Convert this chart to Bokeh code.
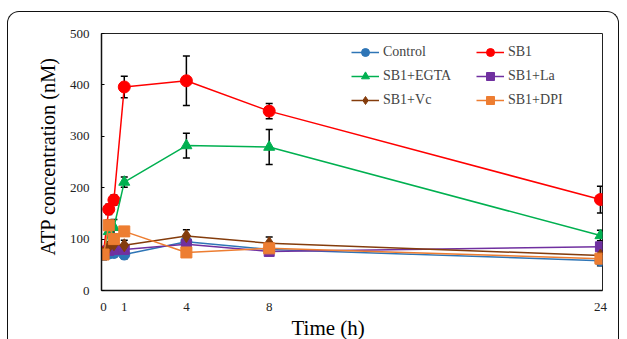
from bokeh.plotting import figure
from bokeh.models import (ColumnDataSource, Whisker, TeeHead, Legend, LegendItem,
                          FixedTicker, Range1d, Title, InlineStyleSheet)
from bokeh.embed import file_html
from bokeh.resources import INLINE

# ---- data ----
time_h = [0, 0.25, 0.5, 1, 4, 8, 24]
x_ticks = [0, 1, 4, 8, 24]
y_ticks = [0, 100, 200, 300, 400, 500]

control = [70, 72, 73, 70, 95, 80, 58]
sb1 = [75, 158, 176, 396, 408, 349, 177]
sb1_egta = [72, 115, 123, 211, 282, 279, 107]
sb1_la = [72, 78, 80, 80, 90, 76, 85]
sb1_vc = [72, 85, 90, 88, 106, 92, 68]
sb1_dpi = [70, 127, 100, 115, 74, 82, 62]

control_err = [8, 8, 8, 8, 10, 8, 10]
sb1_err = [8, 10, 10, 21, 48, 15, 26]
sb1_egta_err = [8, 10, 15, 10, 24, 34, 10]
sb1_la_err = [8, 8, 8, 8, 8, 8, 8]
sb1_vc_err = [8, 10, 10, 10, 12, 12, 8]
sb1_dpi_err = [10, 10, 10, 8, 5, 5, 10]

series = [
    ("Control", control, control_err, "#2E75B6", "circle", 11),
    ("SB1", sb1, sb1_err, "#FF0000", "circle", 12),
    ("SB1+EGTA", sb1_egta, sb1_egta_err, "#00B050", "triangle", 11),
    ("SB1+La", sb1_la, sb1_la_err, "#7030A0", "square", 10),
    ("SB1+Vc", sb1_vc, sb1_vc_err, "#843C0C", "diamond", 13),
    ("SB1+DPI", sb1_dpi, sb1_dpi_err, "#ED7D31", "square", 11),
]

FONT = "Liberation Serif"

p = figure(width=619, height=339, output_backend="svg", toolbar_location=None,
           x_range=Range1d(-0.1, 24.1), y_range=Range1d(0, 500),
           min_border_left=101, min_border_right=17, min_border_top=33,
           min_border_bottom=47)
p.background_fill_color = "white"
p.border_fill_color = "white"
p.grid.visible = False
p.outline_line_color = "#222222"
p.outline_line_width = 1

# outer rounded frame (decoration around the whole chart)
p.stylesheets = [InlineStyleSheet(css="""
:host { position: relative; overflow: visible; }
:host::after {
  content: ""; position: absolute; left: 7px; top: 11px; width: 612px; height: 330px;
  border: 1px solid #111; border-bottom: none; border-radius: 12px 12px 0 0;
  pointer-events: none; z-index: 10; box-sizing: border-box;
}
""")]

# error bars
for name, vals, errs, color, marker, size in series:
    src = ColumnDataSource(dict(x=time_h,
                                upper=[v + e for v, e in zip(vals, errs)],
                                lower=[v - e for v, e in zip(vals, errs)]))
    w = Whisker(base="x", upper="upper", lower="lower", source=src,
                line_color="black", line_width=1.5,
                upper_head=TeeHead(size=7, line_color="black", line_width=1.5),
                lower_head=TeeHead(size=7, line_color="black", line_width=1.5),
                level="underlay")
    p.add_layout(w)

items = {}
for name, vals, errs, color, marker, size in series:
    ln = p.line(time_h, vals, line_color=color, line_width=1.5)
    sc = p.scatter(time_h, vals, marker=marker, size=size, fill_color=color,
                   line_color=color)
    items[name] = [ln, sc]

def make_legend(names, x):
    lg = Legend(items=[LegendItem(label=n, renderers=items[n]) for n in names],
                location=(x, 180), background_fill_alpha=0, border_line_alpha=0,
                label_text_font=FONT, label_text_font_size="14px",
                glyph_width=28, glyph_height=20, label_standoff=4, spacing=4,
                padding=0, margin=0, label_height=20)
    p.add_layout(lg, "center")

make_legend(["Control", "SB1+EGTA", "SB1+Vc"], 250)
make_legend(["SB1", "SB1+La", "SB1+DPI"], 375)

# axes
p.xaxis.ticker = FixedTicker(ticks=x_ticks)
p.yaxis.ticker = FixedTicker(ticks=y_ticks)
p.xaxis.minor_tick_line_color = None
p.yaxis.minor_tick_line_color = None
p.xaxis.major_tick_line_color = None
p.yaxis.major_tick_in = 3
p.yaxis.major_tick_out = 0
p.axis.axis_line_color = "#111111"
p.axis.axis_line_width = 1.5
p.axis.major_label_text_font = FONT
p.axis.major_label_text_font_size = "13px"
p.axis.major_label_text_color = "#222222"
p.xaxis.major_label_standoff = 6
p.yaxis.major_label_standoff = 12

p.add_layout(Title(text="Time (h)", align="left", offset=190, standoff=0,
                   text_font=FONT, text_font_size="21px", text_line_height=0.85,
                   text_font_style="normal", text_color="black"), "below")
p.add_layout(Title(text="ATP concentration (nM)", align="left", offset=35,
                   standoff=15, text_font=FONT, text_font_size="20.3px",
                   text_font_style="normal", text_color="black"), "left")

open("out.html", "w").write(file_html(p, INLINE))
